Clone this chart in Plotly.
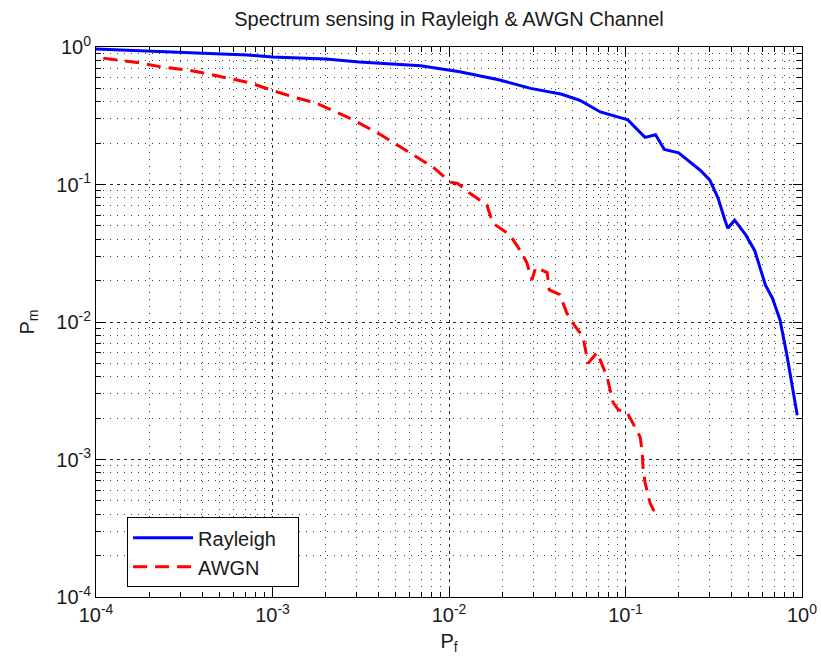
import plotly.graph_objects as go
import numpy as np

# ---- data ----
rayleigh_pf = [1.0e-4, 2.0e-4, 4.0e-4, 7.2e-4, 1.0e-3, 2.0e-3, 3.1e-3, 6.9e-3, 0.0115, 0.0194,
               0.029, 0.043, 0.055, 0.072, 0.103, 0.129, 0.148, 0.166, 0.20, 0.265, 0.30,
               0.334, 0.366, 0.38, 0.415, 0.48, 0.54, 0.62, 0.68, 0.75, 0.82, 0.89, 0.94]
rayleigh_pm = [0.967, 0.935, 0.905, 0.875, 0.846, 0.818, 0.778, 0.73, 0.66, 0.575,
               0.50, 0.455, 0.41, 0.337, 0.295, 0.22, 0.23, 0.18, 0.17, 0.127, 0.108,
               0.08, 0.055, 0.048, 0.055, 0.043, 0.033, 0.0186, 0.0149, 0.0104, 0.0058, 0.0032, 0.0021]

awgn_pf = [1.1e-4, 1.78e-4, 2.3e-4, 3.3e-4, 4.0e-4, 5.5e-4, 7.4e-4, 9.8e-4, 1.31e-3, 1.78e-3,
           2.87e-3, 4.1e-3, 6.0e-3, 8.1e-3, 0.0102, 0.0112, 0.013, 0.0164, 0.0177, 0.0221,
           0.0252, 0.0276, 0.0295, 0.031, 0.036, 0.037, 0.0425, 0.0465, 0.0503, 0.0574,
           0.0614, 0.069, 0.0786, 0.085, 0.091, 0.102, 0.110, 0.121, 0.124, 0.126, 0.129,
           0.138, 0.144, 0.158]
awgn_pm = [0.83, 0.765, 0.72, 0.68, 0.65, 0.595, 0.55, 0.487, 0.433, 0.39,
           0.295, 0.23, 0.17, 0.134, 0.104, 0.102, 0.087, 0.071, 0.0524, 0.043,
           0.0334, 0.027, 0.0202, 0.025, 0.0229, 0.0171, 0.0158, 0.0116, 0.0098, 0.0078,
           0.005, 0.006, 0.004, 0.0026, 0.0023, 0.0022, 0.00184, 0.00146, 0.00118, 0.00084, 0.00068,
           0.00048, 0.00043, 0.00042]

x_tickvals = [1e-4, 1e-3, 1e-2, 1e-1, 1e0]
x_ticktext = ["10<sup>-4</sup>", "10<sup>-3</sup>", "10<sup>-2</sup>", "10<sup>-1</sup>", "10<sup>0</sup>"]
y_tickvals = [1e-4, 1e-3, 1e-2, 1e-1, 1e0]
y_ticktext = ["10<sup>-4</sup>", "10<sup>-3</sup>", "10<sup>-2</sup>", "10<sup>-1</sup>", "10<sup>0</sup>"]

minor_vals = [m * 10.0 ** e for e in range(-4, 0) for m in range(2, 10)]

FONT = "Liberation Sans, Arial, Helvetica, sans-serif"
TXT = "#1a1a1a"

fig = go.Figure()
fig.add_trace(go.Scatter(x=rayleigh_pf, y=rayleigh_pm, mode="lines", name="Rayleigh   ",
                         line=dict(color="#0000ff", width=3)))
fig.add_trace(go.Scatter(x=awgn_pf, y=awgn_pm, mode="lines", name="AWGN",
                         line=dict(color="#ff0000", width=3, dash="14px,8px")))

axis_common = dict(
    type="log",
    showline=True, linecolor="black", linewidth=1, mirror="ticks",
    ticks="inside", ticklen=9, tickcolor="black", tickwidth=1,
    showgrid=True, gridcolor="rgba(0,0,0,0.85)", gridwidth=1, griddash="3px,4px",
    zeroline=False,
    tickmode="array",
    tickfont=dict(family=FONT, size=20, color=TXT),
    minor=dict(tickmode="array", tickvals=minor_vals, ticks="inside", ticklen=5,
               tickcolor="black", showgrid=True, gridcolor="rgba(0,0,0,0.75)",
               gridwidth=1, griddash="1px,6px"),
)

fig.update_xaxes(**axis_common, range=[-4, 0], tickvals=x_tickvals, ticktext=x_ticktext,
                 title=dict(text="P<sub>f</sub>", font=dict(family=FONT, size=20, color=TXT), standoff=8))
fig.update_yaxes(**axis_common, range=[-4, 0], tickvals=y_tickvals, ticktext=y_ticktext,
                 title=dict(text="P<sub>m</sub>", font=dict(family=FONT, size=20, color=TXT), standoff=16))

fig.update_layout(
    width=821, height=667,
    margin=dict(l=96, r=19, t=47, b=70, autoexpand=False),
    paper_bgcolor="white", plot_bgcolor="white",
    title=dict(text="Spectrum sensing in Rayleigh &amp; AWGN Channel",
               font=dict(family=FONT, size=20, color=TXT),
               x=0.5, xref="paper", xanchor="center", y=0.972, yref="container", yanchor="middle"),
    legend=dict(x=0.044, y=0.145, xanchor="left", yanchor="top",
                bgcolor="white", bordercolor="black", borderwidth=1,
                font=dict(family=FONT, size=20, color=TXT),
                itemwidth=60, tracegroupgap=0),
    showlegend=True,
)

fig.write_html("out.html", config={"displayModeBar": False},
               post_script="document.body.style.margin='0';document.body.style.padding='0';")
